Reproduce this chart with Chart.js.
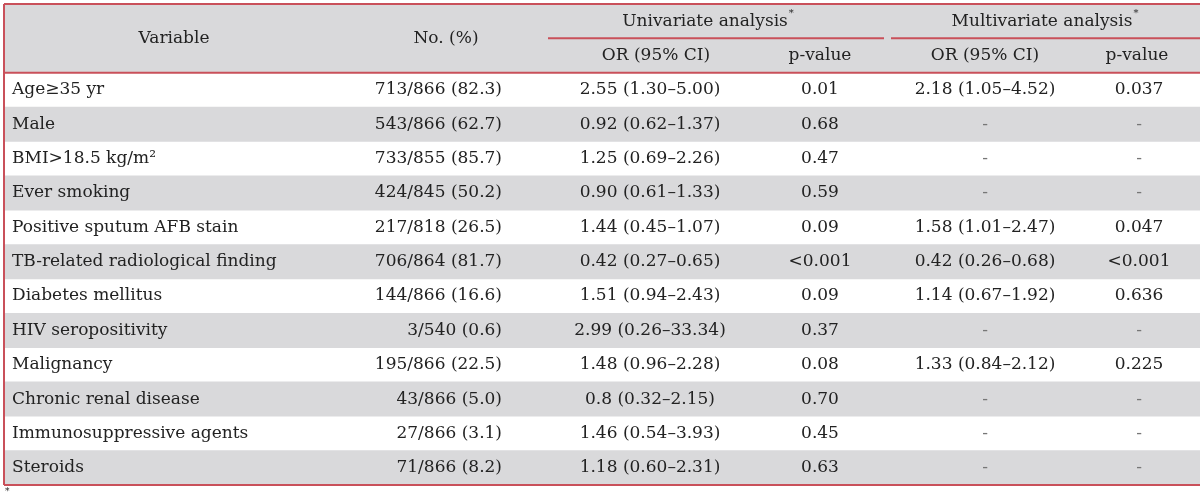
<!DOCTYPE html>
<html>
<head>
<meta charset="utf-8">
<script src="https://cdn.jsdelivr.net/npm/chart.js@4/dist/chart.umd.min.js"></script>
<style>
  html, body { margin: 0; padding: 0; background: #fff; }
  #wrap { width: 1200px; height: 492px; position: relative; }
</style>
</head>
<body>
<div id="wrap"><canvas id="tableChart"></canvas></div>
<script>
// Table rows
const variables = ['Age\u226535 yr', 'Male', 'BMI>18.5 kg/m\u00b2', 'Ever smoking', 'Positive sputum AFB stain',
    'TB-related radiological finding', 'Diabetes mellitus', 'HIV seropositivity', 'Malignancy',
    'Chronic renal disease', 'Immunosuppressive agents', 'Steroids'];
const counts = ['713/866 (82.3)', '543/866 (62.7)', '733/855 (85.7)', '424/845 (50.2)', '217/818 (26.5)',
    '706/864 (81.7)', '144/866 (16.6)', '3/540 (0.6)', '195/866 (22.5)', '43/866 (5.0)', '27/866 (3.1)', '71/866 (8.2)'];
const uniOR = ['2.55 (1.30\u20135.00)', '0.92 (0.62\u20131.37)', '1.25 (0.69\u20132.26)', '0.90 (0.61\u20131.33)',
    '1.44 (0.45\u20131.07)', '0.42 (0.27\u20130.65)', '1.51 (0.94\u20132.43)', '2.99 (0.26\u201333.34)',
    '1.48 (0.96\u20132.28)', '0.8 (0.32\u20132.15)', '1.46 (0.54\u20133.93)', '1.18 (0.60\u20132.31)'];
const uniP = ['0.01', '0.68', '0.47', '0.59', '0.09', '<0.001', '0.09', '0.37', '0.08', '0.70', '0.45', '0.63'];
const multiOR = ['2.18 (1.05\u20134.52)', '-', '-', '-', '1.58 (1.01\u20132.47)', '0.42 (0.26\u20130.68)',
    '1.14 (0.67\u20131.92)', '-', '1.33 (0.84\u20132.12)', '-', '-', '-'];
const multiP = ['0.037', '-', '-', '-', '0.047', '<0.001', '0.636', '-', '0.225', '-', '-', '-'];

// Header labels
const headerMain = ['Variable', 'No. (%)'];
const headerGroups = ['Univariate analysis', 'Multivariate analysis'];
const headerSub = ['OR (95% CI)', 'p-value', 'OR (95% CI)', 'p-value'];

// two header rows + body rows on the category axis
const rowLabels = ['head1', 'head2'].concat(variables);
const TABLE_W = 1196;

const FONT = '17px "DejaVu Serif", "Liberation Serif", serif';
const TEXT = '#222';
const RED = '#c9505a';
const GRAY = '#d9d9db';

// column positions in table units (x axis)
const col = { variable: 8, count: 498, uniOR: 646, uniP: 816, multiOR: 981, multiP: 1135 };

const tablePlugin = {
    id: 'tableText',
    afterDatasetsDraw(chart) {
        const ctx = chart.ctx;
        const xs = chart.scales.x, ys = chart.scales.y;
        const area = chart.chartArea;
        const X = v => xs.getPixelForValue(v);
        const Y = i => ys.getPixelForValue(i);
        const half = (Y(1) - Y(0)) / 2;

        ctx.save();
        ctx.fillStyle = TEXT;
        ctx.font = FONT;
        ctx.textBaseline = 'middle';

        // header
        ctx.textAlign = 'center';
        const midHead = (Y(0) + Y(1)) / 2;
        ctx.fillText(headerMain[0], X(170), midHead);
        ctx.fillText(headerMain[1], X(442), midHead);
        const groupX = [701, 1038];
        headerGroups.forEach((t, i) => {
            ctx.font = FONT;
            ctx.textAlign = 'center';
            ctx.fillText(t, X(groupX[i]), Y(0));
            const w = ctx.measureText(t).width;
            ctx.font = '10px "DejaVu Serif", serif';
            ctx.textAlign = 'left';
            ctx.fillText('*', X(groupX[i]) + w / 2 + 1, Y(0) - 8);
        });
        ctx.font = FONT;
        ctx.textAlign = 'center';
        [col.uniOR + 6, col.uniP, col.multiOR, col.multiP - 2].forEach((x, i) => {
            ctx.fillText(headerSub[i], X(x), Y(1));
        });

        // body
        variables.forEach((v, i) => {
            const y = Y(i + 2);
            ctx.fillStyle = TEXT;
            ctx.textAlign = 'left';
            ctx.fillText(v, X(col.variable), y);
            ctx.textAlign = 'right';
            ctx.fillText(counts[i], X(col.count), y);
            ctx.textAlign = 'center';
            ctx.fillText(uniOR[i], X(col.uniOR), y);
            ctx.fillText(uniP[i], X(col.uniP), y);
            [[multiOR[i], col.multiOR], [multiP[i], col.multiP]].forEach(([t, x]) => {
                ctx.fillStyle = t === '-' ? '#777' : TEXT;
                ctx.fillText(t, X(x), y);
            });
        });

        // rules
        ctx.strokeStyle = RED;
        ctx.lineWidth = 2;
        const hline = (x0, x1, y) => {
            ctx.beginPath();
            ctx.moveTo(x0, y);
            ctx.lineTo(x1, y);
            ctx.stroke();
        };
        hline(area.left, area.right, area.top);
        hline(area.left, area.right, Y(1) + half);
        hline(area.left, area.right, area.bottom);
        hline(X(544), X(880), Y(0) + half);
        hline(X(887), area.right, Y(0) + half);
        ctx.beginPath();
        ctx.moveTo(area.left, area.top);
        ctx.lineTo(area.left, area.bottom);
        ctx.stroke();

        // footnote mark
        ctx.fillStyle = TEXT;
        ctx.font = '9px "DejaVu Serif", serif';
        ctx.textAlign = 'left';
        ctx.fillText('*', 5, area.bottom + 7);
        ctx.restore();
    }
};

new Chart(document.getElementById('tableChart'), {
    type: 'bar',
    data: {
        labels: rowLabels,
        datasets: [{
            // shaded bands: header rows and every other body row
            data: rowLabels.map((r, i) => (i < 2 || i % 2 === 1) ? [0, TABLE_W] : null),
            backgroundColor: GRAY,
            borderWidth: 0,
            barPercentage: 1,
            categoryPercentage: 1
        }]
    },
    options: {
        indexAxis: 'y',
        responsive: true,
        maintainAspectRatio: false,
        animation: false,
        layout: { padding: { top: 4, bottom: 7, left: 4, right: 0 } },
        plugins: { legend: { display: false }, tooltip: { enabled: false } },
        scales: {
            x: { type: 'linear', min: 0, max: TABLE_W, display: false },
            y: { type: 'category', display: false }
        }
    },
    plugins: [tablePlugin]
});
</script>
</body>
</html>
